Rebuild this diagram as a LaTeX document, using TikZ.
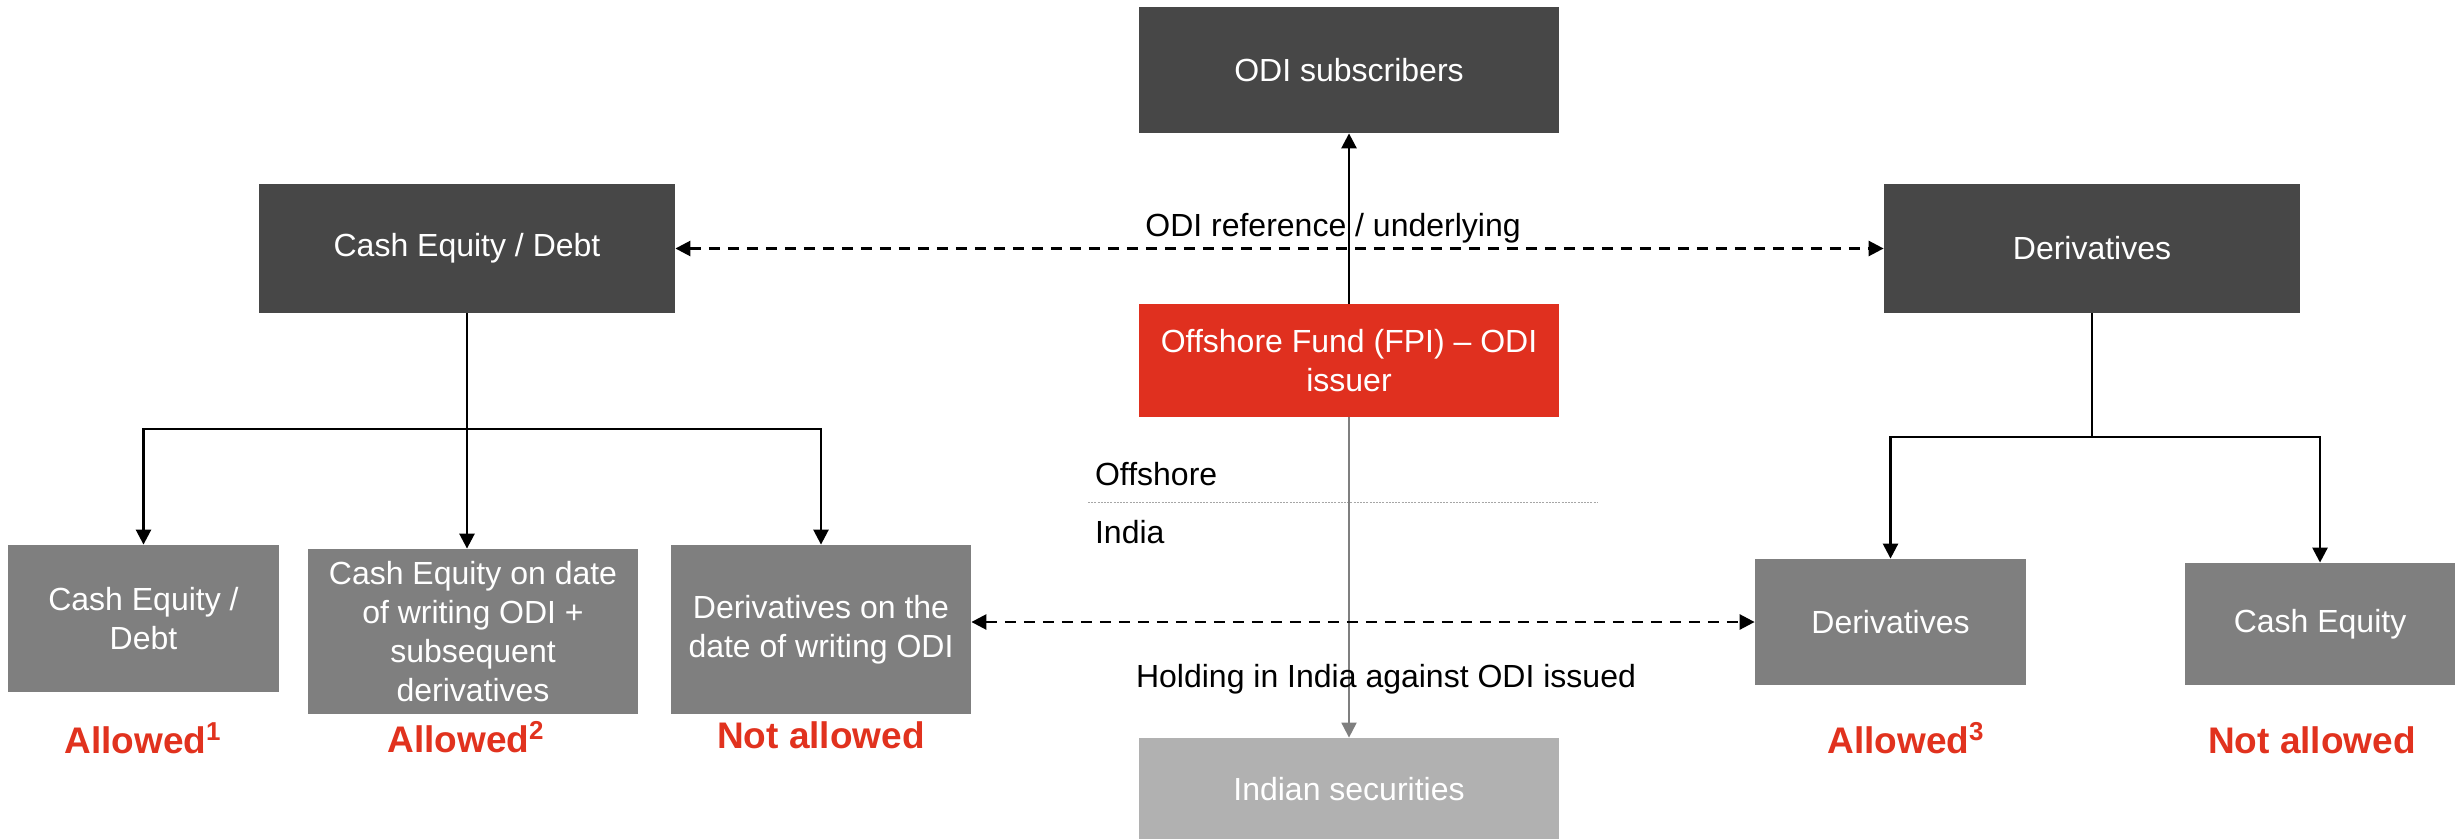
\documentclass[tikz,border=0pt]{standalone}
\usepackage{fontspec}
\setmainfont{Liberation Sans}
\usepackage{tikz}
\usetikzlibrary{arrows.meta}

\definecolor{boxdark}{HTML}{474747}
\definecolor{boxmid}{HTML}{7F7F7F}
\definecolor{boxlight}{HTML}{B1B1B1}
\definecolor{fundred}{HTML}{E0301F}
\definecolor{okred}{HTML}{E1321E}

\begin{document}
\begin{tikzpicture}[x=0.5pt,y=-0.5pt,
		box/.style={inner sep=0pt, align=center, text=white,
			font=\fontsize{16}{19.4}\selectfont},
		topbox/.style={box, fill=boxdark, minimum width=208pt, minimum height=64.5pt},
		lowbox/.style={box, fill=boxmid},
		lbl/.style={anchor=base, font=\fontsize{16}{19.4}\selectfont},
		verdict/.style={anchor=base, text=okred, font=\fontsize{18.5}{22}\selectfont\bfseries},
		arr/.style={line width=1.3pt, -{Triangle[length=7.5pt,width=7.5pt]}},
		dblarr/.style={arr, {Triangle[length=7.5pt,width=7.5pt]}-{Triangle[length=7.5pt,width=7.5pt]}, dash pattern=on 5.5pt off 4pt}]
	\useasboundingbox (0,0) rectangle (2455,839);

	% middle column
	\node[topbox, minimum width=210pt, minimum height=63pt] (subs) at (1349,70) {ODI subscribers};
	\node[box, fill=fundred, minimum width=210pt, minimum height=56.5pt] (fund) at (1349,360.5) {Offshore Fund (FPI) -- ODI\\issuer};
	\node[box, fill=boxlight, minimum width=210pt, minimum height=51pt] (indsec) at (1349,789) {Indian securities};

	% reference / underlying
	\node[topbox] (cashdebt) at (467,248.5) {Cash Equity / Debt};
	\node[topbox] (derivtop) at (2092,248.5) {Derivatives};

	% leaves
	\node[lowbox, minimum width=135.5pt, minimum height=73.5pt] (cashleaf) at (143.5,618.5) {Cash Equity /\\Debt};
	\node[lowbox, minimum width=165pt, minimum height=82.5pt] (mixleaf) at (473,631.5) {Cash Equity on date\\of writing ODI +\\subsequent\\derivatives};
	\node[lowbox, minimum width=150pt, minimum height=84.5pt] (derivleaf) at (821,629.5) {Derivatives on the\\date of writing ODI};
	\node[lowbox, minimum width=135.5pt, minimum height=63pt] (derivright) at (1890.5,622) {Derivatives};
	\node[lowbox, minimum width=135pt, minimum height=61pt] (cashright) at (2320,624) {Cash Equity};

	% verdicts
	\node[verdict] (ok1) at (143,753) {Allowed\textsuperscript{1}};
	\node[verdict] (ok2) at (466,752) {Allowed\textsuperscript{2}};
	\node[verdict] (no1) at (821,748) {Not allowed};
	\node[verdict] (ok3) at (1906,753) {Allowed\textsuperscript{3}};
	\node[verdict] (no2) at (2312,753) {Not allowed};

	% offshore / india divider
	\node[lbl, anchor=base west] (offlbl) at (1088,485) {Offshore};
	\node[lbl, anchor=base west] (indlbl) at (1088,543) {India};
	\draw[gray!70, line width=0.5pt, dash pattern=on 1pt off 0.6pt] (1088,502) -- (1597,502);

	% fund links
	\draw[arr] (fund.north) -- (subs.south);
	\draw[arr, boxmid, line width=1pt] (fund.south) -- (indsec.north);

	\draw[dblarr] (cashdebt.east) -- (derivtop.west);
	\node[lbl] (reflbl) at (1333,237) {ODI reference / underlying};
	\draw[dblarr] (derivleaf.east |- derivright.west) -- (derivright.west);
	\node[lbl] (holdlbl) at (1386,687) {Holding in India against ODI issued};

	% left tree
	\coordinate (lsplit) at (467,429);
	\draw[line width=1.3pt] (cashdebt.south) -- (lsplit);
	\draw[arr] (lsplit) -- (lsplit |- mixleaf.north);
	\draw[arr] (lsplit) -| (cashleaf.north);
	\draw[arr] (lsplit) -| (derivleaf.north);

	% right tree
	\coordinate (rsplit) at (2092,437);
	\draw[line width=1.3pt] (derivtop.south) -- (rsplit);
	\draw[arr] (rsplit) -| (derivright.north);
	\draw[arr] (rsplit) -| (cashright.north);
\end{tikzpicture}
\end{document}
